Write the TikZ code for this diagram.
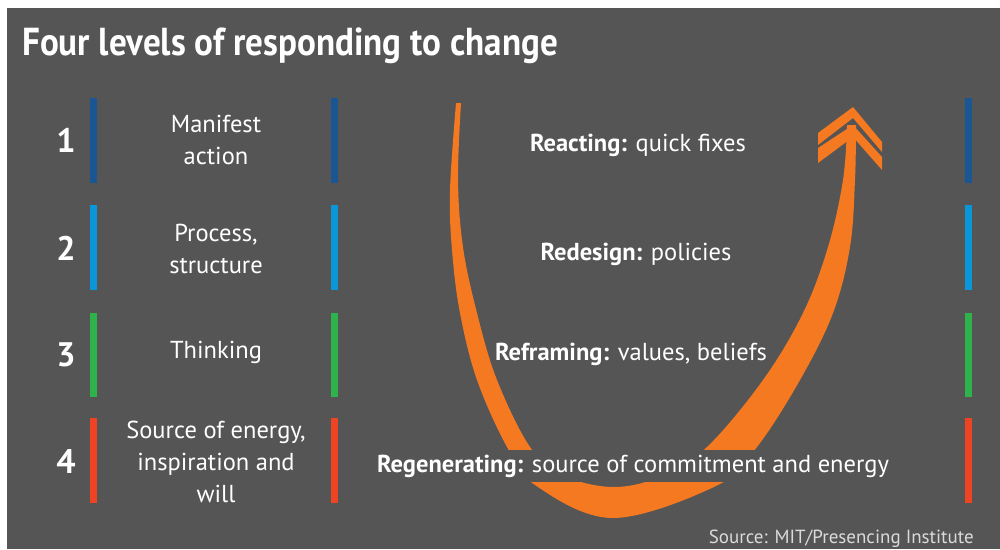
\documentclass[tikz,border=0pt]{standalone}
\usepackage{fontspec}
\usepackage{graphicx}
\setmainfont{PT Sans}
\usetikzlibrary{positioning}

\definecolor{bggray}{HTML}{555555}
\definecolor{uorange}{HTML}{F47920}
\definecolor{lvlone}{HTML}{1B5694}
\definecolor{lvltwo}{HTML}{0A96D8}
\definecolor{lvlthree}{HTML}{2EB24B}
\definecolor{lvlfour}{HTML}{EF4423}
\definecolor{srcgray}{HTML}{DADADA}

\tikzset{
  numtext/.style={text=white, font=\fontsize{34}{34}\selectfont\bfseries, inner sep=0pt},
  lvltext/.style={text=white, align=center, font=\fontsize{24.5}{32}\selectfont, inner sep=0pt},
  resptext/.style={text=white, anchor=base, font=\fontsize{24.5}{28}\selectfont, inner sep=0pt},
}

\begin{document}
\begin{tikzpicture}[x=1pt,y=1pt,yscale=-1,xscale=1]
\useasboundingbox (0,0) rectangle (1000,549);

%Background
\fill[white] (0,0) rectangle (1000,549);
\fill[bggray] (7,8) rectangle (1000,549);

% Title
\node[anchor=base west, inner sep=0pt, text=white, font=\fontsize{39}{39}\selectfont\bfseries] (title) at (22,55) {\scalebox{0.9}[1]{Four levels of responding to change}};

%Shape: level bars, left column
\fill[lvlone] (90,98) rectangle (97,183);
\fill[lvltwo] (90,205) rectangle (97,290);
\fill[lvlthree] (90,313) rectangle (97,397);
\fill[lvlfour] (90,418) rectangle (97,503);
%Shape: level bars, middle column
\fill[lvlone] (331,98) rectangle (338,183);
\fill[lvltwo] (331,205) rectangle (338,290);
\fill[lvlthree] (331,313) rectangle (338,397);
\fill[lvlfour] (331,418) rectangle (338,503);
%Shape: level bars, right column
\fill[lvlone] (965,98) rectangle (972,183);
\fill[lvltwo] (965,205) rectangle (972,290);
\fill[lvlthree] (965,313) rectangle (972,397);
\fill[lvlfour] (965,418) rectangle (972,503);

%Shape: U curve
\fill[uorange] plot[smooth, tension=0.6] coordinates {(456,103) (450,190) (452,250) (460,313) (477,380) (507,447) (535,485) (613,518) (718,485) (757,447) (800,380) (833,313) (850,247) (855,180) (856,125)}
  -- plot[smooth, tension=0.6] coordinates {(847,125) (843,180) (828,247) (803,313) (763,380) (707,447) (662,476) (613,487) (562,475) (530,447) (497,380) (477,313) (463,247) (458,180) (461,103)} -- cycle;
%Shape: arrow head, two chevrons
\fill[uorange] (853,107) -- (882,142) -- (882,152) -- (853,118) -- (818,145) -- (818,133) -- cycle;
\fill[uorange] (853,125) -- (882,157) -- (882,170) -- (853,137) -- (818,163) -- (818,148) -- cycle;

% Text Node: level numbers
\node[numtext] (num1) at (66,140) {1};
\node[numtext] (num2) at (66,248) {2};
\node[numtext] (num3) at (66,355) {3};
\node[numtext] (num4) at (66,462) {4};

% Text Node: level names
\node[lvltext] (lvl1) at (216,140) {Manifest\\action};
\node[lvltext] (lvl2) at (216,249) {Process,\\structure};
\node[lvltext] (lvl3) at (216,352) {Thinking};
\node[lvltext] (lvl4) at (216,462) {Source of energy,\\inspiration and\\will};

% Text Node: responses
\node[resptext] (resp1) at (638,151) {\textbf{Reacting:} quick fixes};
\node[resptext] (resp2) at (636,260) {\textbf{Redesign:} policies};
\node[resptext] (resp3) at (631,360) {\textbf{Reframing:} values, beliefs};
\node[resptext, fill=bggray, inner xsep=3pt, inner ysep=5pt] (resp4) at (633,472) {\textbf{Regenerating:} source of commitment and energy};

% Text Node: source
\node[anchor=base east, inner sep=0pt, text=srcgray, font=\fontsize{19}{19}\selectfont] (src) at (974,543) {Source: MIT/Presencing Institute};

\end{tikzpicture}
\end{document}
